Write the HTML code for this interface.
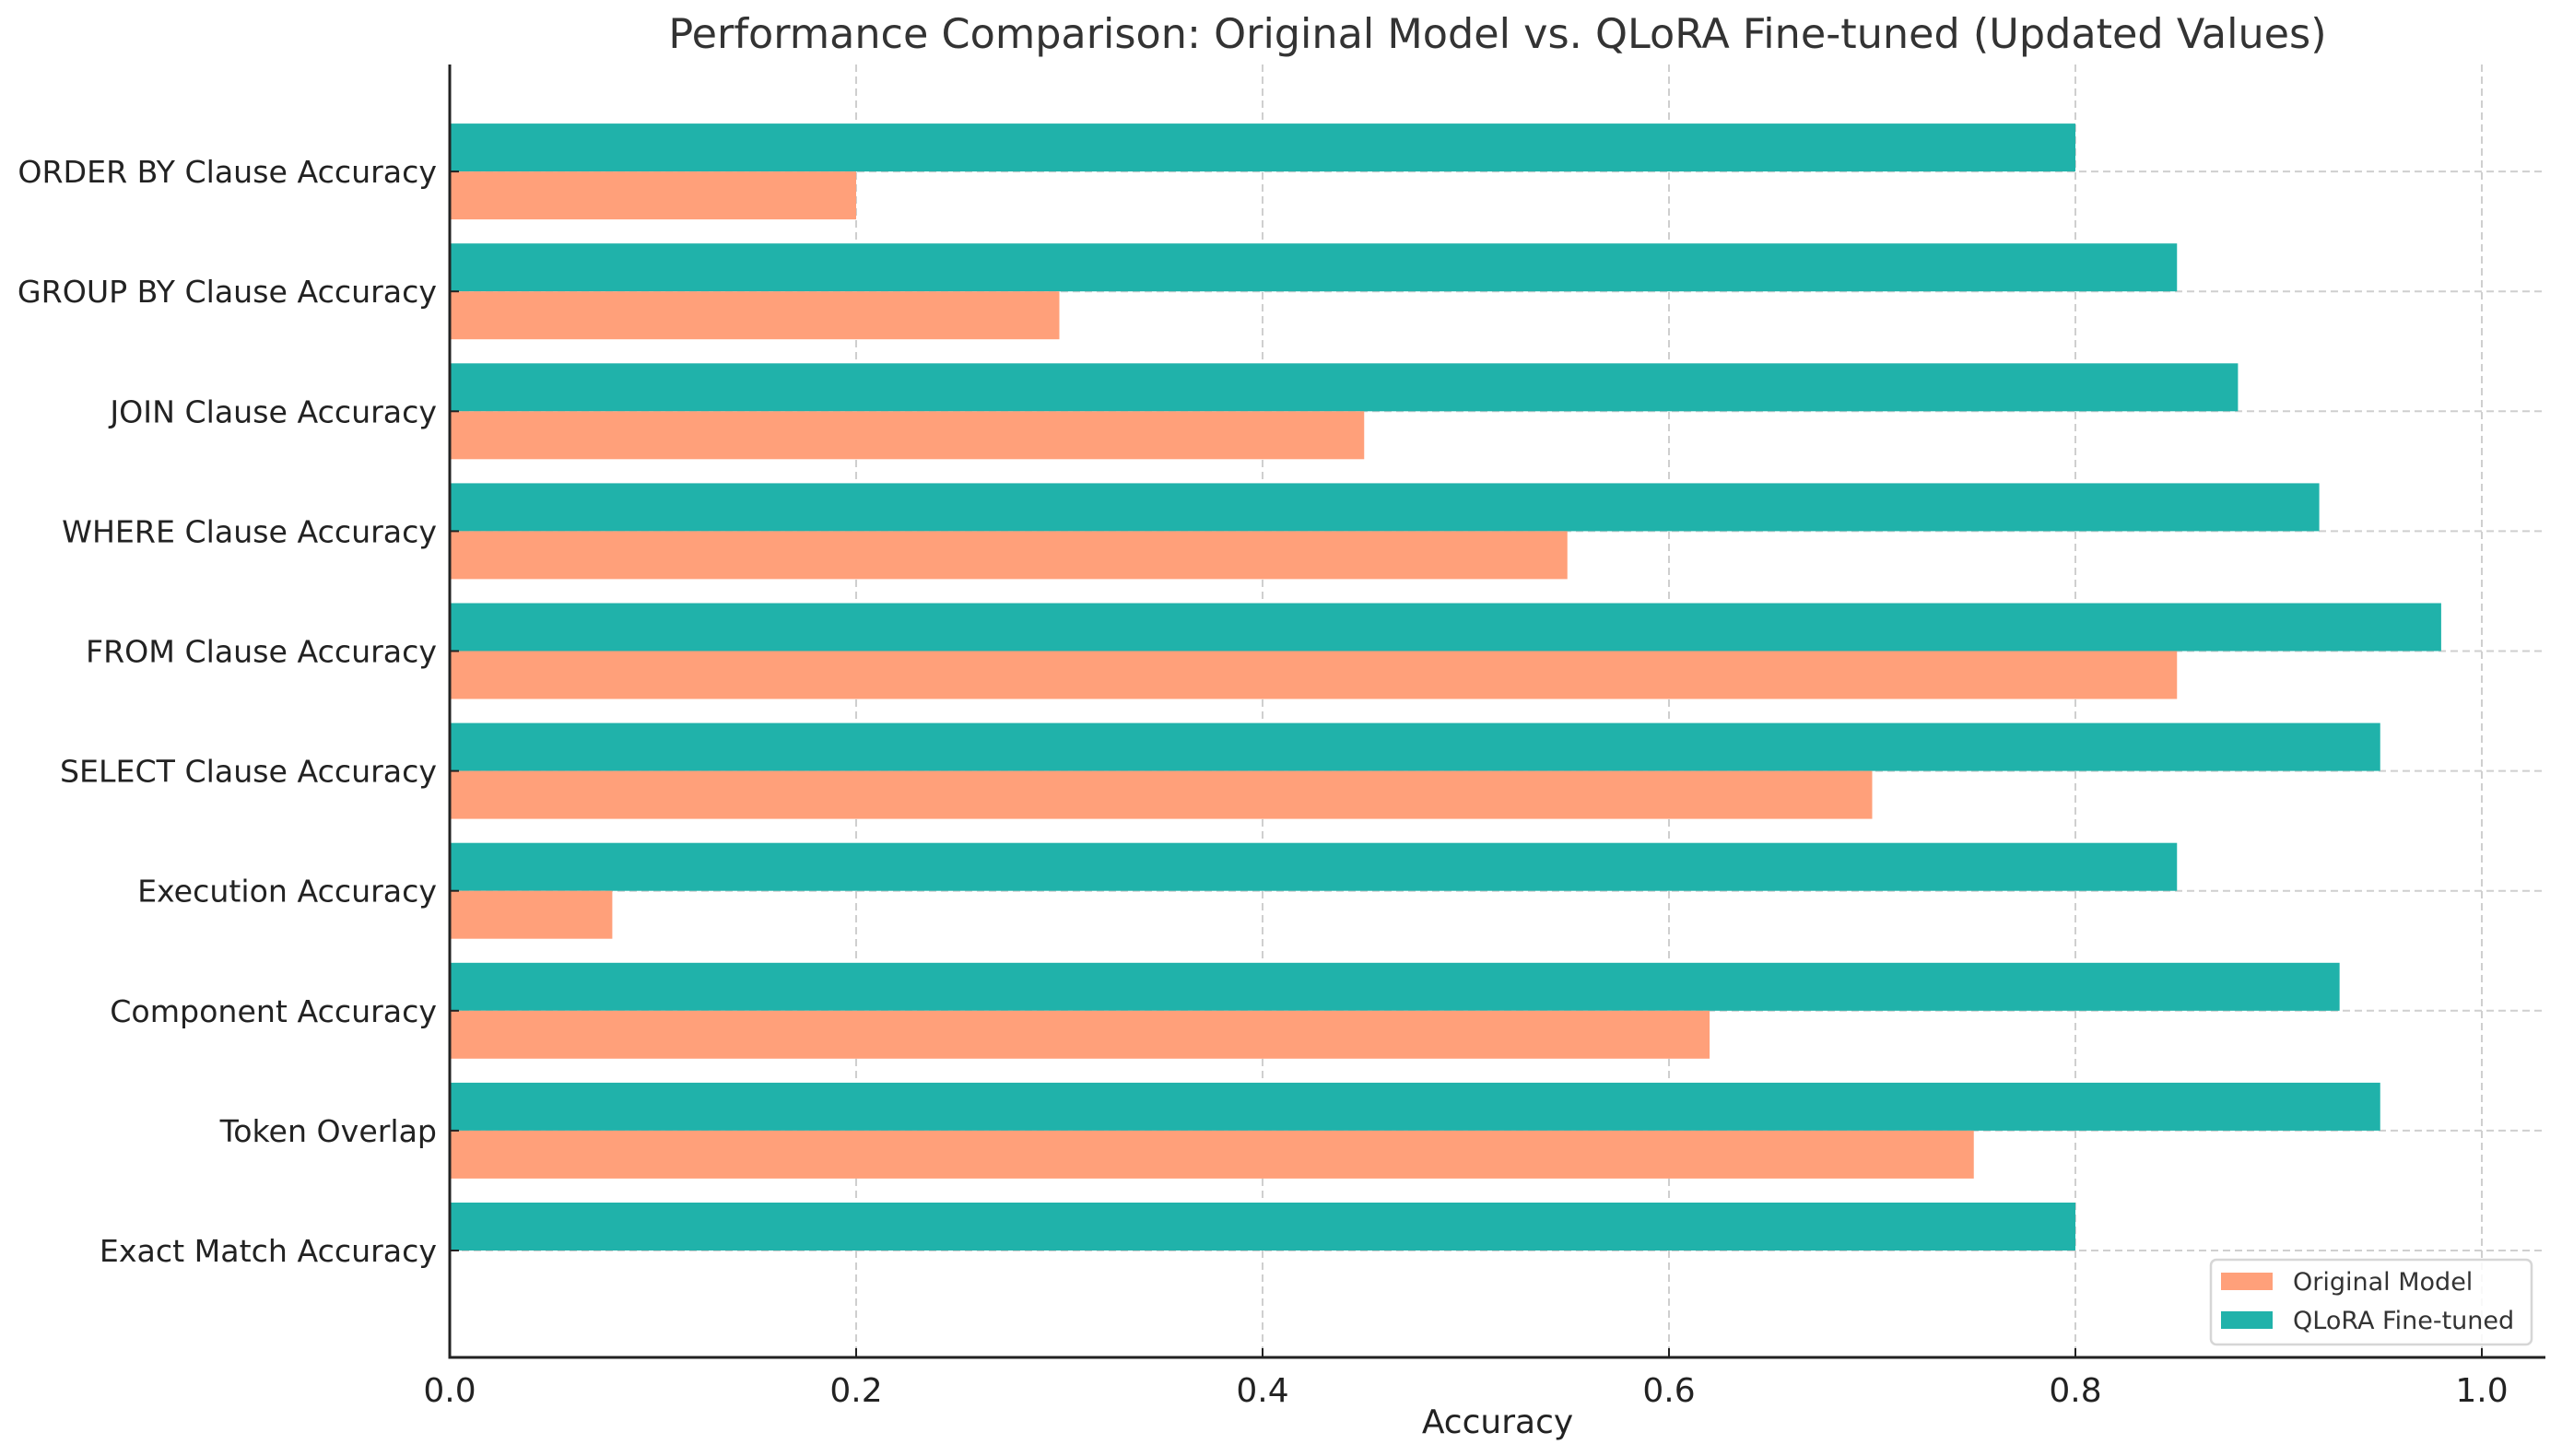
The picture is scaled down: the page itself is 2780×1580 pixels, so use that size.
<!DOCTYPE html>
<html><head><meta charset="utf-8"><style>
html,body{margin:0;padding:0;background:#fff;}
svg{display:block;font-family:"DejaVu Sans","Liberation Sans",sans-serif;}
</style></head><body>
<svg id="chart" width="2780" height="1580" viewBox="0 0 2780 1580">
<text x="1625" y="52" font-size="44.5" fill="#333" text-anchor="middle">Performance Comparison: Original Model vs. QLoRA Fine-tuned (Updated Values)</text>
<g id="grid"></g><g id="bars"></g><g id="axes"></g>
<text x="1625" y="1555" font-size="36" fill="#222" text-anchor="middle">Accuracy</text>
<g>
<rect x="2399" y="1367" width="348" height="92" rx="6" fill="#fff" fill-opacity="0.85" stroke="#d6d6d6" stroke-width="2.5"/>
<rect x="2410" y="1381" width="56" height="19" fill="#FFA07A"/>
<text x="2488" y="1400" font-size="27" fill="#333">Original Model</text>
<rect x="2410" y="1423" width="56" height="19" fill="#20B2AA"/>
<text x="2488" y="1442" font-size="27" fill="#333">QLoRA Fine-tuned</text>
</g>
</svg>
<script>
const categories = ["Exact Match Accuracy","Token Overlap","Component Accuracy","Execution Accuracy","SELECT Clause Accuracy","FROM Clause Accuracy","WHERE Clause Accuracy","JOIN Clause Accuracy","GROUP BY Clause Accuracy","ORDER BY Clause Accuracy"];
const originalValues = [0, 0.75, 0.62, 0.08, 0.70, 0.85, 0.55, 0.45, 0.30, 0.20];
const qloraValues = [0.80, 0.95, 0.93, 0.85, 0.95, 0.98, 0.92, 0.88, 0.85, 0.80];
const xTicks = [0, 0.2, 0.4, 0.6, 0.8, 1.0];
const xTickLabels = ["0.0","0.2","0.4","0.6","0.8","1.0"];

const NS = "http://www.w3.org/2000/svg";
const X0 = 488, XW = 2205, LEFT = 488, RIGHT = 2762, TOP = 70, BOTTOM = 1473;
const xs = v => X0 + v * XW;
const step = 130.1, firstY = 1357;
const ys = i => firstY - i * step;
const BH = 52;
function mk(tag, attrs, parent){const e=document.createElementNS(NS,tag);for(const k in attrs)e.setAttribute(k,attrs[k]);parent.appendChild(e);return e;}
const grid=document.getElementById('grid'), bars=document.getElementById('bars'), axes=document.getElementById('axes');

xTicks.forEach((t,i)=>{
  const g=mk('line',{x1:xs(t),x2:xs(t),y1:TOP,y2:BOTTOM,stroke:'#cfcfcf','stroke-width':2,'stroke-dasharray':'8,5'},grid);
  
  
  const tk=mk('line',{x1:xs(t),x2:xs(t),y1:BOTTOM,y2:BOTTOM-10,stroke:'#222','stroke-width':2},axes);
  
  
  const lb=mk('text',{x:xs(t),y:BOTTOM+48,'font-size':36,fill:'#222','text-anchor':'middle'},axes);
  lb.textContent=xTickLabels[i];
  
  
});
categories.forEach((c,i)=>{
  const y=ys(i);
  const g=mk('line',{x1:LEFT,x2:RIGHT,y1:y,y2:y,stroke:'#cfcfcf','stroke-width':2,'stroke-dasharray':'8,5'},grid);
  
  
  const bq=mk('rect',{x:xs(0),y:y-BH,width:xs(qloraValues[i])-xs(0),height:BH,fill:'#20B2AA'},bars);
  
  
  const bo=mk('rect',{x:xs(0),y:y,width:xs(originalValues[i])-xs(0),height:BH,fill:'#FFA07A'},bars);
  
  
  const tk=mk('line',{x1:LEFT,x2:LEFT+10,y1:y,y2:y,stroke:'#222','stroke-width':2},axes);
  
  
  const lb=mk('text',{x:LEFT-14,y:y+12,'font-size':33.2,fill:'#222','text-anchor':'end'},axes);
  lb.textContent=c;
  
  
});
const ly=mk('line',{x1:LEFT,x2:LEFT,y1:TOP,y2:BOTTOM+1.5,stroke:'#222','stroke-width':3},axes);


const lx=mk('line',{x1:LEFT-1.5,x2:RIGHT,y1:BOTTOM,y2:BOTTOM,stroke:'#222','stroke-width':3},axes);


</script>
</body></html>
